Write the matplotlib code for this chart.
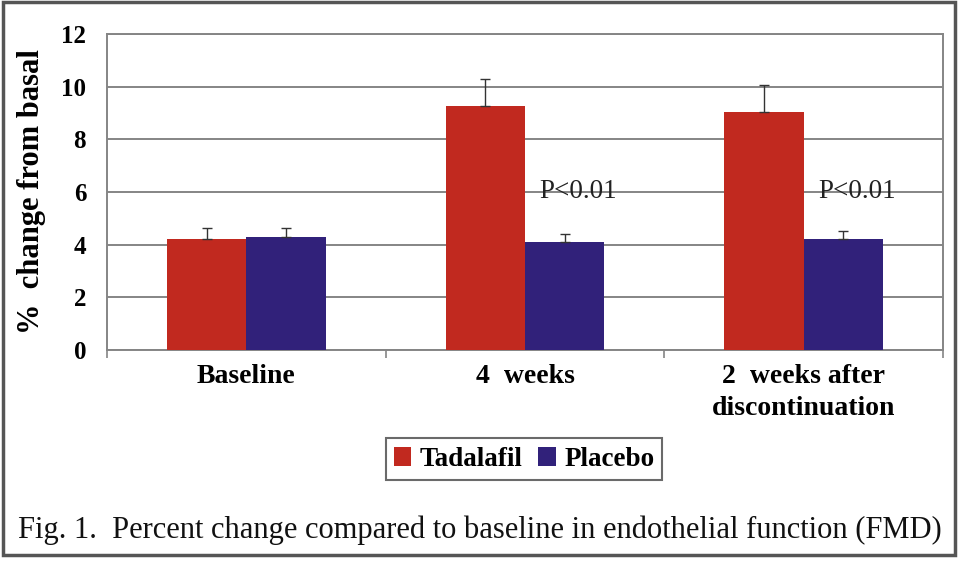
import matplotlib
matplotlib.use("Agg")
import matplotlib.pyplot as plt
from matplotlib.patches import Rectangle
import numpy as np

categories = ["Baseline", "4  weeks", "2  weeks after\ndiscontinuation"]
tadalafil = [4.2, 9.25, 9.05]
tadalafil_err = [0.45, 1.05, 1.0]
placebo = [4.3, 4.1, 4.2]
placebo_err = [0.35, 0.32, 0.32]
series_names = ["Tadalafil", "Placebo"]
annotations = ["P<0.01", "P<0.01"]
annot_cats = [1, 2]
annot_y = 6.0
yticks = [0, 2, 4, 6, 8, 10, 12]
caption = "Fig. 1.  Percent change compared to baseline in endothelial function (FMD)"

RED = "#C1291F"
BLUE = "#31217A"
GRID = "#858585"

plt.rcParams["font.family"] = ["Liberation Serif", "DejaVu Serif"]

fig = plt.figure(figsize=(9.6, 5.61), dpi=100)
ax = fig.add_axes([107/960, 1-350/561, 836/960, 316/561])

x = np.arange(len(categories))
w = 0.285
ax.bar(x - w/2, tadalafil, w, color=RED, zorder=3, label=series_names[0])
ax.bar(x + w/2, placebo, w, color=BLUE, zorder=3, label=series_names[1])
ekw = dict(fmt="none", ecolor="#333333", elinewidth=1.0, capsize=3.5, capthick=1.0, zorder=4)
ax.errorbar(x - w/2, tadalafil, yerr=[np.zeros(3), tadalafil_err], **ekw)
ax.errorbar(x + w/2, placebo, yerr=[np.zeros(3), placebo_err], **ekw)

for c, t in zip(annot_cats, annotations):
    ax.text(c + 0.052, annot_y, t, fontsize=19.5, ha="left", va="center", color="#222222", zorder=5)

ax.set_xlim(-0.5, 2.5)
ax.set_ylim(0, 12)
ax.set_yticks(yticks)
ax.set_yticklabels([str(v) for v in yticks], fontsize=18, fontweight="bold")
ax.tick_params(axis="y", length=0, pad=15)
ax.yaxis.grid(True, color=GRID, linewidth=1.4, zorder=0)
ax.set_axisbelow(True)

ax.set_xticks(x)
ax.set_xticklabels(categories, fontsize=20, fontweight="bold", linespacing=1.38)
ax.tick_params(axis="x", which="major", length=0, pad=10)
ax.set_xticks([-0.5, 0.5, 1.5, 2.5], minor=True)
ax.tick_params(axis="x", which="minor", length=6, width=1.2, color=GRID, direction="out")

for s in ["left", "right", "top", "bottom"]:
    ax.spines[s].set_color(GRID)
    ax.spines[s].set_linewidth(1.4)

ax.set_ylabel("%  change from basal", fontsize=22, fontweight="bold")
ax.yaxis.set_label_coords(-0.073, 0.5)

leg = fig.legend(loc="center", bbox_to_anchor=(524/960, 1-459/561), ncol=2,
                 prop=dict(size=19.5, weight="bold"), handlelength=0.65, handleheight=0.7,
                 handletextpad=0.3, columnspacing=0.6, borderpad=0.3, fancybox=False,
                 edgecolor="#6a6a6a", framealpha=1)
leg.get_frame().set_linewidth(1.5)

fig.text(480/960, 1-530/561, caption, fontsize=22, ha="center", va="center", color="#111111")

fig.patches.append(Rectangle((3/960, 1-555/561), 952/960, 553/561, transform=fig.transFigure,
                             fill=False, edgecolor="#555555", linewidth=2.5))

fig.savefig("out.png", dpi=100)
